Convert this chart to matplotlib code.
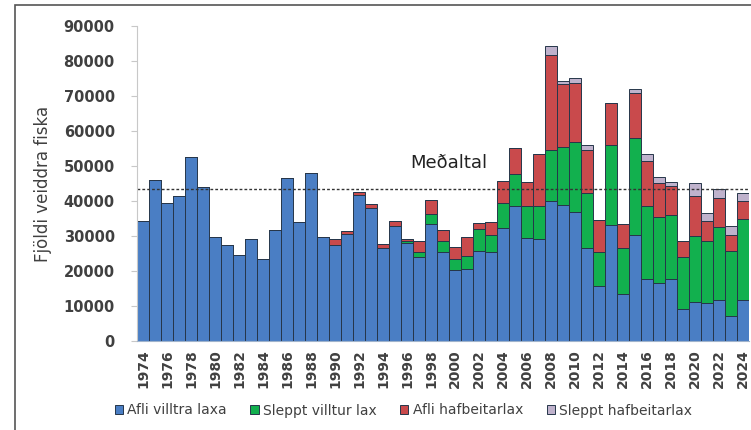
import numpy as np
import matplotlib.pyplot as plt
from matplotlib.patches import Rectangle

years = list(range(1974, 2025))

# afli villtra laxa (blue)
afli_villt = [34200, 45900, 39300, 41400, 52700, 44000, 29800, 27400, 24500, 29100,
              23500, 31600, 46700, 34000, 48100, 29800, 27500, 30700, 41800, 38000,
              26600, 32800, 28000, 24000, 33500, 25400, 20300, 20500, 25600, 25300,
              32300, 38700, 29400, 29100, 40100, 39000, 36800, 26600, 15800, 33200,
              13500, 30400, 17700, 16700, 17700, 9100, 11100, 11000, 11800, 7200, 11800]
# sleppt villtur lax (green)
sleppt_villt = [0, 0, 0, 0, 0, 0, 0, 0, 0, 0,
                0, 0, 0, 0, 0, 0, 0, 0, 0, 0,
                0, 0, 500, 1400, 2900, 3200, 3100, 3700, 6400, 5100,
                7200, 8900, 9100, 9400, 14600, 16400, 20100, 15700, 9500, 22700,
                13200, 27500, 20800, 18600, 18400, 14900, 18800, 17500, 20800, 18400, 23200]
# afli hafbeitarlax (red)
afli_haf = [0, 0, 0, 0, 0, 0, 0, 0, 0, 0,
            0, 0, 0, 0, 0, 0, 1700, 800, 700, 1100,
            1200, 1600, 700, 3300, 4000, 3000, 3600, 5600, 1700, 3600,
            6300, 7500, 7000, 14900, 27000, 18100, 16900, 12200, 9400, 12200,
            6700, 12900, 12900, 9900, 8100, 4700, 11500, 5700, 8300, 4800, 4900]
# sleppt hafbeitarlax (lavender)
sleppt_haf = [0, 0, 0, 0, 0, 0, 0, 0, 0, 0,
              0, 0, 0, 0, 0, 0, 0, 0, 0, 0,
              0, 0, 0, 0, 0, 0, 0, 0, 0, 0,
              0, 0, 0, 0, 2500, 800, 1200, 1400, 0, 0,
              0, 1100, 1900, 1600, 1200, 0, 3800, 2400, 2400, 2400, 2400]

medaltal = 43300

series = [("Afli villtra laxa", afli_villt, "#4a7ec4"),
          ("Sleppt villtur lax", sleppt_villt, "#12b04e"),
          ("Afli hafbeitarlax", afli_haf, "#c94a4c"),
          ("Sleppt hafbeitarlax", sleppt_haf, "#bfb2cc")]

fig = plt.figure(figsize=(7.51, 4.30), dpi=100)
ax = fig.add_axes([137 / 751, 89 / 430, 612 / 751, 315 / 430])

x = np.arange(len(years))
bottom = np.zeros(len(years))
handles = []
for name, vals, col in series:
    vals = np.array(vals, dtype=float)
    b = ax.bar(x, vals, width=1.0, bottom=bottom, color=col,
               edgecolor="#26364a", linewidth=0.7, label=name)
    handles.append(b)
    bottom += vals

ax.axhline(medaltal, color="#333333", linestyle=(0, (2, 1.5)), linewidth=1.0)
ax.text(25.5, 51000, "Meðaltal", fontsize=13, color="#222222",
        ha="center", va="center")

ax.set_xlim(-0.5, len(years) - 0.5)
ax.set_ylim(0, 90000)
ax.set_yticks(range(0, 90001, 10000))
ax.set_yticklabels([str(v) for v in range(0, 90001, 10000)],
                   fontsize=10.5, fontweight="bold", color="#404040")
ax.set_xticks(x[::2])
ax.set_xticklabels([str(y) for y in years[::2]], rotation=90,
                   fontsize=10, fontweight="bold", color="#404040")
ax.tick_params(axis="x", length=0, pad=6)
ax.tick_params(axis="y", length=4, color="#c8c8c8", pad=12)

for s in ["top", "right"]:
    ax.spines[s].set_visible(False)
ax.spines["left"].set_color("#c8c8c8")
ax.spines["bottom"].set_color("#9fb3cc")

ax.set_ylabel("Fjöldi veiddra fiska", fontsize=12, color="#404040", labelpad=8)

fig.legend(handles=handles, loc="lower left", bbox_to_anchor=(102 / 751, 0.0),
           ncol=4, frameon=False, fontsize=10, handlelength=0.6,
           handleheight=0.6, handletextpad=0.3, columnspacing=1.7,
           labelcolor="#404040")

fig.patches.append(Rectangle((15 / 751, -0.05), 1.0, 1.05 - 5 / 430,
                             transform=fig.transFigure, fill=False,
                             edgecolor="#555555", linewidth=1.2))

fig.savefig("out.png", dpi=100)
